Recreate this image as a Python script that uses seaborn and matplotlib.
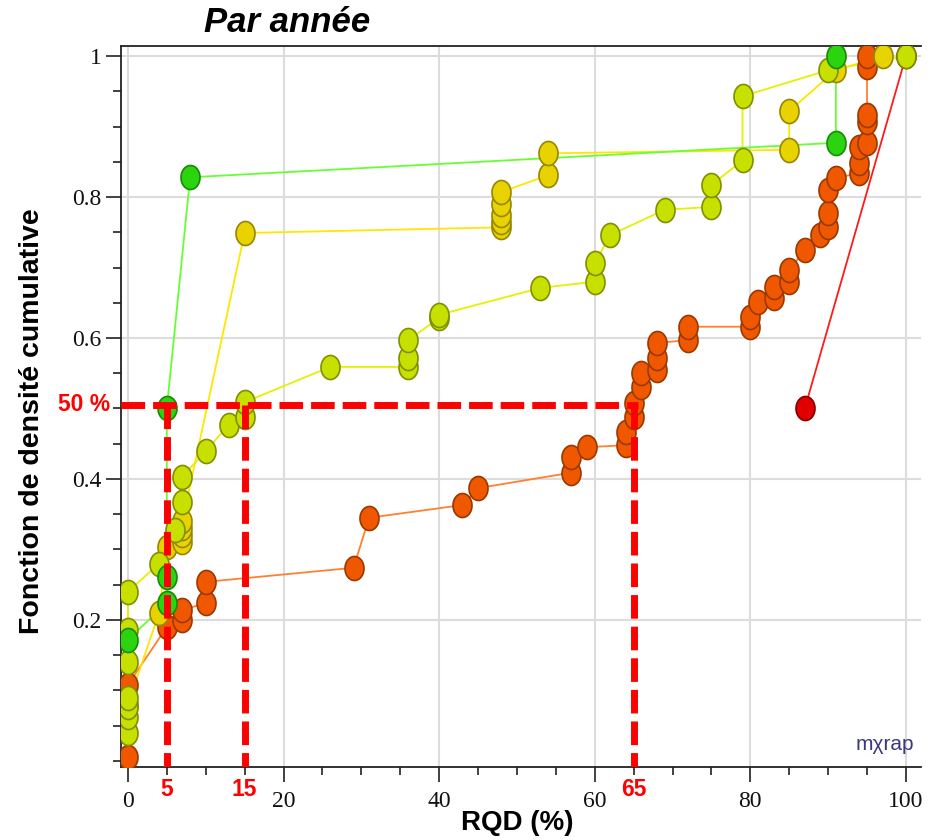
import numpy as np
import matplotlib
matplotlib.use("Agg")
import matplotlib.pyplot as plt
from matplotlib.ticker import MultipleLocator
import seaborn as sns

# RQD (%) et fonction de densité cumulative, une série par année
rqd_rouge = [87, 100]
fdc_rouge = [0.500, 1.000]

rqd_orange = [0, 0, 5, 7, 7, 10, 10, 29, 31, 43, 45, 57, 57, 59, 64, 64, 65, 65,
              66, 66, 68, 68, 68, 72, 72, 80, 80, 81, 83, 83, 85, 85, 87, 89, 90,
              90, 90, 91, 94, 94, 94, 95, 95, 95, 95, 95]
fdc_orange = [0.006, 0.108, 0.190, 0.200, 0.214, 0.224, 0.254, 0.274, 0.345, 0.363,
              0.387, 0.409, 0.431, 0.445, 0.448, 0.467, 0.488, 0.508, 0.530, 0.550,
              0.555, 0.572, 0.593, 0.597, 0.616, 0.616, 0.630, 0.651, 0.657, 0.672,
              0.680, 0.696, 0.725, 0.746, 0.757, 0.777, 0.810, 0.827, 0.834, 0.848,
              0.871, 0.877, 0.907, 0.916, 0.985, 1.000]

rqd_jaune = [0, 4, 5, 7, 7, 7, 7, 15, 48, 48, 48, 48, 48, 54, 54, 85, 85, 91, 97]
fdc_jaune = [0.080, 0.210, 0.304, 0.310, 0.320, 0.330, 0.340, 0.749, 0.757, 0.765,
             0.775, 0.790, 0.807, 0.831, 0.862, 0.867, 0.922, 0.980, 1.000]

rqd_jaunevert = [0, 0, 0, 0, 0, 0, 0, 4, 6, 7, 7, 10, 13, 15, 15, 26, 36, 36, 36,
                 40, 40, 53, 60, 60, 62, 69, 75, 75, 79, 79, 90, 100]
fdc_jaunevert = [0.040, 0.062, 0.077, 0.089, 0.140, 0.186, 0.240, 0.280, 0.328,
                 0.367, 0.403, 0.440, 0.477, 0.488, 0.509, 0.559, 0.559, 0.572,
                 0.597, 0.628, 0.633, 0.671, 0.680, 0.706, 0.746, 0.782, 0.786,
                 0.817, 0.852, 0.943, 0.980, 1.000]

rqd_vert = [0, 5, 5, 5, 8, 91, 91]
fdc_vert = [0.172, 0.224, 0.261, 0.500, 0.828, 0.877, 1.000]

series = [
    (rqd_rouge, fdc_rouge, "#e00000", "#8a0000", "#ff1a1a"),
    (rqd_orange, fdc_orange, "#f05800", "#9a3800", "#ff8030"),
    (rqd_jaune, fdc_jaune, "#e8d200", "#968600", "#ffe600"),
    (rqd_jaunevert, fdc_jaunevert, "#c8e000", "#7f8f00", "#e2f200"),
    (rqd_vert, fdc_vert, "#2bd40f", "#178a08", "#66ff33"),
]

# seuils
seuil_y = 0.505
seuils_x = [5, 15, 65]

sns.set_style("white")
plt.rcParams['font.family'] = ['Liberation Sans', 'DejaVu Sans']
plt.rcParams['text.color'] = 'black'

fig = plt.figure(figsize=(9.3, 8.4), dpi=100)
ax = fig.add_axes([0.130, 0.087, 0.860, 0.858])

theta = np.linspace(0, 2 * np.pi, 48)
ellipse = np.column_stack([0.79 * np.cos(theta), np.sin(theta)])

for x, y, face, edge, line in series:
    sns.lineplot(x=x, y=y, sort=False, estimator=None, color=line,
                 linewidth=1.3, ax=ax, zorder=2)
    sns.scatterplot(x=x, y=y, marker=ellipse, s=300, color=face,
                    edgecolor=edge, linewidth=1.2, ax=ax, zorder=3)

# lignes rouges en tirets
dash = dict(color="#ff0000", linewidth=5, dashes=(3.4, 1.15), zorder=5,
            dash_capstyle="butt")
ax.plot([-0.9, 65.6], [seuil_y, seuil_y], **dash)
for xs in seuils_x:
    ax.plot([xs, xs], [seuil_y, -0.0085], **dash)

ax.set_xlim(-0.9, 101.9)
ax.set_ylim(-0.0085, 1.014)
ax.set_xticks([0, 20, 40, 60, 80, 100])
ax.set_yticks([0.2, 0.4, 0.6, 0.8, 1.0])
ax.set_yticklabels(["0.2", "0.4", "0.6", "0.8", "1"])
ax.xaxis.set_minor_locator(MultipleLocator(5))
ax.yaxis.set_minor_locator(MultipleLocator(0.05))
ax.tick_params(which="major", direction="out", length=11, width=1.3,
               color="#333333", labelsize=17, labelcolor="#111111",
               labelfontfamily="Liberation Serif")
ax.tick_params(axis="x", which="major", pad=6)
ax.tick_params(axis="y", which="major", pad=3)
ax.tick_params(which="minor", direction="out", length=6, width=1.3, color="#333333")
ax.tick_params(bottom=True, left=True, which="both")

ax.grid(True, which="major", color="#dcdcdc", linewidth=1.5)
ax.set_axisbelow(True)
ax.spines["right"].set_visible(False)
for s in ["left", "bottom", "top"]:
    ax.spines[s].set_color("#222222")
    ax.spines[s].set_linewidth(1.3)
ax.set_xlabel("")
ax.set_ylabel("")

# annotations rouges
ax.text(-0.013, seuil_y, "50 %", transform=ax.get_yaxis_transform(),
        ha="right", va="center", color="#ff0000", fontsize=16.5, fontweight="bold")
for xs in seuils_x:
    ax.text(xs, -0.032, str(xs), transform=ax.get_xaxis_transform(),
            ha="center", va="center", color="#ff0000", fontsize=16.5, fontweight="bold")

fig.text(287 / 930, 1 - 22 / 840, "Par année", ha="center", va="center",
         fontsize=25, fontweight="bold", style="italic")
fig.text(32 / 930, 1 - 421 / 840, "Fonction de densité cumulative", rotation=90,
         ha="center", va="center", fontsize=20.5, fontweight="bold")
fig.text(517 / 930, 1 - 823 / 840, "RQD (%)", ha="center", va="center",
         fontsize=20, fontweight="bold")
fig.text(885 / 930, 1 - 745 / 840, "mχrap", ha="center", va="center",
         fontsize=15, color="#3a3a7a")

fig.savefig("out.png", dpi=100)
